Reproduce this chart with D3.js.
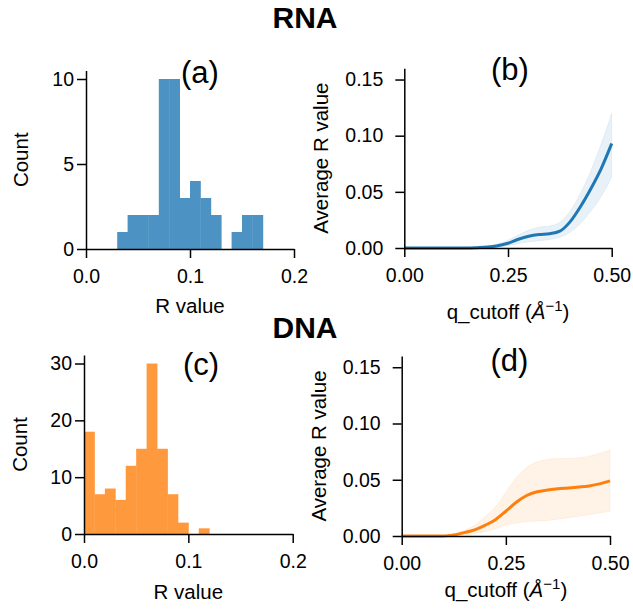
<!DOCTYPE html>
<html>
<head>
<meta charset="utf-8">
<script src="https://cdn.jsdelivr.net/npm/d3@7"></script>
<style>
  body { margin: 0; background: #fff; }
  text { font-family: "Liberation Sans", Arial, sans-serif; fill: #000; }
</style>
</head>
<body>
<div id="chart"></div>
<script>

// histogram bins (width 0.01)
var rnaEdges = [0.03, 0.04, 0.05, 0.06, 0.07, 0.08, 0.09, 0.10, 0.11, 0.12, 0.13, 0.14, 0.15, 0.16, 0.17];
var rnaCounts = [1, 2, 2, 2, 10, 10, 3, 4, 3, 2, 0, 1, 2, 2];
var dnaEdges = [0.00, 0.01, 0.02, 0.03, 0.04, 0.05, 0.06, 0.07, 0.08, 0.09, 0.10, 0.11, 0.12];
var dnaCounts = [18, 7, 8, 6, 12, 15, 30, 15, 7, 2, 0, 1];

// average R value vs q_cutoff
var qCut = [0, 0.025, 0.05, 0.075, 0.1, 0.125, 0.15, 0.175, 0.2, 0.225, 0.25,
            0.275, 0.3, 0.325, 0.35, 0.375, 0.4, 0.425, 0.45, 0.475, 0.5];
var rnaMean  = [0, 0, 0, 0, 0, 0, 0, 0.0003, 0.0008, 0.002, 0.0042,
                0.0078, 0.0105, 0.012, 0.0127, 0.015, 0.0235, 0.037, 0.053, 0.071, 0.093];
var rnaUpper = [0, 0, 0, 0, 0, 0, 0.0001, 0.0005, 0.0015, 0.0035, 0.007,
                0.0115, 0.016, 0.0185, 0.0195, 0.023, 0.033, 0.049, 0.069, 0.093, 0.12];
var rnaLower = [0, 0, 0, 0, 0, 0, 0, 0, 0.0003, 0.001, 0.002,
                0.004, 0.0055, 0.0065, 0.0075, 0.0095, 0.014, 0.022, 0.033, 0.046, 0.063];
var dnaMean  = [0, 0, 0, 0, 0, 0.001, 0.003, 0.0055, 0.0095, 0.0145, 0.022,
                0.03, 0.036, 0.0393, 0.0408, 0.042, 0.0427, 0.0435, 0.0445, 0.0463, 0.049];
var dnaUpper = [0, 0, 0, 0, 0.0002, 0.002, 0.005, 0.0095, 0.017, 0.026, 0.039,
                0.052, 0.061, 0.066, 0.068, 0.069, 0.069, 0.0695, 0.071, 0.0735, 0.0765];
var dnaLower = [0, 0, 0, 0, 0, 0.0003, 0.001, 0.002, 0.004, 0.0065, 0.0095,
                0.0115, 0.0127, 0.0133, 0.0138, 0.015, 0.0163, 0.0175, 0.019, 0.0205, 0.0222];

var blue = "#1f77b4", orange = "#ff7f0e";
var blueBar = "#4c92c3", orangeBar = "#ff993e";  // 80% tint on white

var width = 633, height = 615;
var svg = d3.select("#chart").append("svg")
    .attr("width", width)
    .attr("height", height);
svg.append("rect").attr("width", width).attr("height", height).attr("fill", "#fff");

function styleAxis(g) {
  g.selectAll(".domain").attr("stroke", "#000").attr("stroke-width", 1.5);
  g.selectAll(".tick line").attr("stroke", "#000").attr("stroke-width", 1.5);
  g.selectAll(".tick text").style("font-size", "19.5px").attr("fill", "#000");
}

function axes(box, x, y, xTicks, xFmt, yTicks, yFmt, yPad) {
  var gx = svg.append("g")
      .attr("transform", "translate(0," + box.y1 + ")")
      .call(d3.axisBottom(x).tickValues(xTicks).tickFormat(d3.format(xFmt))
            .tickSize(9).tickSizeOuter(0).tickPadding(11));
  styleAxis(gx);
  var gy = svg.append("g")
      .attr("transform", "translate(" + box.x0 + ",0)")
      .call(d3.axisLeft(y).tickValues(yTicks).tickFormat(d3.format(yFmt))
            .tickSize(9).tickSizeOuter(0).tickPadding(yPad));
  styleAxis(gy);
}

function histPanel(box, edges, counts, ymax, yTicks, color, label, xlab) {
  var x = d3.scaleLinear().domain([0, 0.2]).range([box.x0, box.x1]);
  var y = d3.scaleLinear().domain([0, ymax]).range([box.y1, box.y0]);
  svg.append("g").selectAll("rect")
    .data(counts)
    .join("rect")
      .attr("x", (d, i) => x(edges[i]))
      .attr("width", (d, i) => x(edges[i + 1]) - x(edges[i]) + 0.4)
      .attr("y", d => y(d))
      .attr("height", d => y(0) - y(d))
      .attr("fill", color);
  axes(box, x, y, [0, 0.1, 0.2], ".1f", yTicks, "d", 3);
  svg.append("text")
    .attr("x", box.labelX).attr("y", box.labelY)
    .attr("text-anchor", "middle").style("font-size", "31px").text(label);
  svg.append("text")
    .attr("transform", "translate(" + box.ylabX + "," + ((box.y0 + box.y1) / 2) + ") rotate(-90)")
    .attr("text-anchor", "middle").style("font-size", "20.5px").text("Count");
  svg.append("text")
    .attr("x", (box.x0 + box.x1) / 2).attr("y", box.xlabY)
    .attr("text-anchor", "middle").style("font-size", "20.5px").text(xlab);
}

function curvePanel(box, mean, upper, lower, color, label) {
  var x = d3.scaleLinear().domain([0, 0.5]).range([box.x0, box.x1]);
  var y = d3.scaleLinear().domain([0, 0.16]).range([box.y1, box.y0]);
  var pts = qCut.map((q, i) => ({q: q, m: mean[i], hi: upper[i], lo: lower[i]}));
  var area = d3.area().curve(d3.curveMonotoneX)
      .x(d => x(d.q)).y0(d => y(d.lo)).y1(d => y(d.hi));
  svg.append("path").datum(pts)
      .attr("d", area)
      .attr("fill", color).attr("fill-opacity", 0.1)
      .attr("stroke", color).attr("stroke-opacity", 0.08).attr("stroke-width", 1);
  var line = d3.line().curve(d3.curveMonotoneX).x(d => x(d.q)).y(d => y(d.m));
  svg.append("path").datum(pts)
      .attr("d", line)
      .attr("fill", "none").attr("stroke", color).attr("stroke-width", 3);
  axes(box, x, y, [0, 0.25, 0.5], ".2f", [0, 0.05, 0.1, 0.15], ".2f", 12);
  svg.append("text")
    .attr("x", box.labelX).attr("y", box.labelY)
    .attr("text-anchor", "middle").style("font-size", "31px").text(label);
  svg.append("text")
    .attr("transform", "translate(" + box.ylabX + "," + ((box.y0 + box.y1) / 2) + ") rotate(-90)")
    .attr("text-anchor", "middle").style("font-size", "20.5px").text("Average R value");
  var t = svg.append("text")
    .attr("x", (box.x0 + box.x1) / 2).attr("y", box.xlabY)
    .attr("text-anchor", "middle").style("font-size", "20.5px");
  t.append("tspan").text("q_cutoff (");
  t.append("tspan").style("font-style", "italic").text("Å");
  t.append("tspan").attr("dy", -8).style("font-size", "15px").text("\u22121");
  t.append("tspan").attr("dy", 8).text(")");
}

// titles
svg.append("text").attr("x", 305).attr("y", 28).attr("text-anchor", "middle")
  .style("font-size", "30px").style("font-weight", "bold").text("RNA");
svg.append("text").attr("x", 305).attr("y", 338).attr("text-anchor", "middle")
  .style("font-size", "30px").style("font-weight", "bold").text("DNA");

histPanel({x0: 86, x1: 294, y0: 70.5, y1: 249, labelX: 200, labelY: 82.5, ylabX: 28, xlabY: 313},
          rnaEdges, rnaCounts, 10.5, [0, 5, 10], blueBar, "(a)", "R value");
curvePanel({x0: 404.3, x1: 611.7, y0: 68.3, y1: 248, labelX: 510, labelY: 79.5, ylabX: 328, xlabY: 319},
           rnaMean, rnaUpper, rnaLower, blue, "(b)");
histPanel({x0: 84, x1: 292.7, y0: 355, y1: 534, labelX: 201, labelY: 375, ylabX: 27, xlabY: 599},
          dnaEdges, dnaCounts, 31.5, [0, 10, 20, 30], orangeBar, "(c)", "R value");
curvePanel({x0: 401.7, x1: 610, y0: 356, y1: 536, labelX: 509.5, labelY: 371, ylabX: 326, xlabY: 597},
           dnaMean, dnaUpper, dnaLower, orange, "(d)");

</script>
</body>
</html>
